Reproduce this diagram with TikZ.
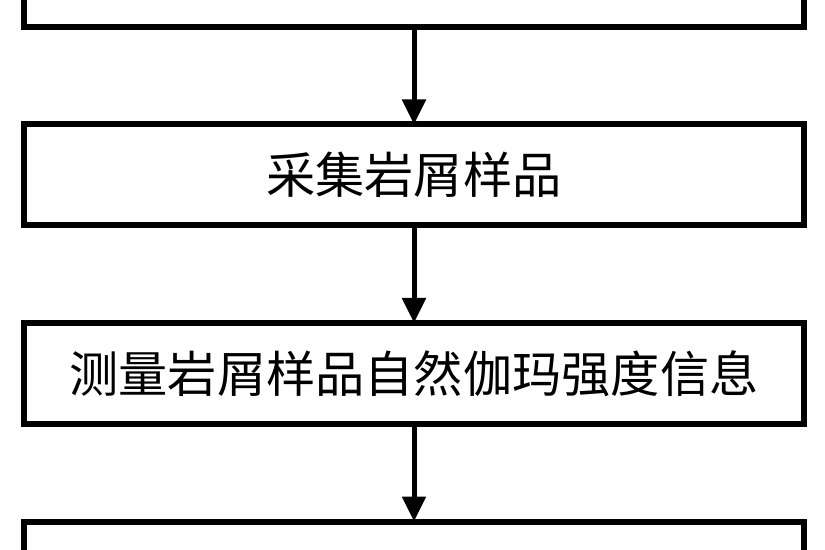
\documentclass[tikz,border=0pt]{standalone}
\usepackage{fontspec}
\newfontfamily\cjk{Noto Sans CJK SC}
\usepackage{tikz}
\usetikzlibrary{arrows.meta,positioning}

\begin{document}
\begin{tikzpicture}[scale=1.0,
    stepbox/.style={draw, line width=0.12cm, outer sep=0pt, fill=white,
      minimum width=15.6cm, minimum height=2.02cm, inner sep=0pt,
      font=\cjk\fontsize{28pt}{32pt}\selectfont},
    flow/.style={line width=0.1cm, -{Triangle[width=0.46cm,length=0.5cm]}},
    node distance=1.95cm]
    % frame
    \useasboundingbox (0,0) rectangle (16.5,-11);
    % boxes
    \node[stepbox] (top) at (8.28,0.47) {};
    \node[stepbox, below=of top] (collect) {采集岩屑样品};
    \node[stepbox, below=of collect] (measure) {测量岩屑样品自然伽玛强度信息};
    \node[stepbox, below=of measure] (bottom) {};
    % arrows
    \draw[flow] (top) -- (collect);
    \draw[flow] (collect) -- (measure);
    \draw[flow] (measure) -- (bottom);
\end{tikzpicture}
\end{document}
